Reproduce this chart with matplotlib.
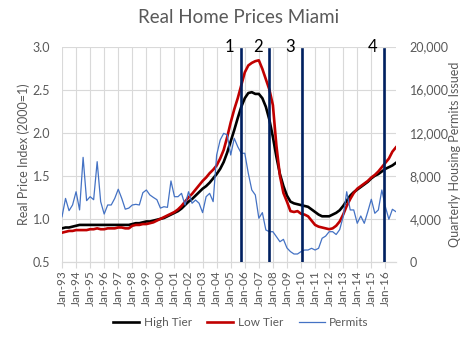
import matplotlib
matplotlib.use("Agg")
import matplotlib.pyplot as plt
from matplotlib.ticker import FuncFormatter

plt.rcParams["font.family"] = ["Lato", "DejaVu Sans"]

# ── data (quarterly, 1993Q1 .. 2016Q4) ─────────────────────
high_tier = [
    0.89, 0.90, 0.90, 0.91,  0.92, 0.93, 0.93, 0.93,  0.93, 0.93, 0.93, 0.93,
    0.93, 0.93, 0.93, 0.93,  0.93, 0.93, 0.93, 0.93,  0.94, 0.95, 0.95, 0.96,
    0.97, 0.97, 0.98, 0.99,  1.00, 1.01, 1.03, 1.05,  1.07, 1.09, 1.12, 1.16,
    1.20, 1.23, 1.27, 1.31,  1.35, 1.38, 1.42, 1.47,  1.52, 1.58, 1.66, 1.77,
    1.90, 2.03, 2.17, 2.30,  2.40, 2.46, 2.47, 2.45,  2.45, 2.40, 2.30, 2.15,
    1.95, 1.72, 1.52, 1.38,  1.27, 1.20, 1.18, 1.17,  1.16, 1.15, 1.14, 1.11,
    1.08, 1.05, 1.03, 1.03,  1.03, 1.05, 1.07, 1.10,  1.15, 1.21, 1.27, 1.31,
    1.34, 1.37, 1.40, 1.43,  1.47, 1.50, 1.52, 1.55,  1.58, 1.60, 1.62, 1.65,
]
low_tier = [
    0.84, 0.85, 0.86, 0.86,  0.87, 0.87, 0.87, 0.87,  0.88, 0.88, 0.89, 0.88,
    0.88, 0.89, 0.89, 0.89,  0.90, 0.90, 0.89, 0.89,  0.92, 0.93, 0.93, 0.94,
    0.94, 0.95, 0.96, 0.98,  1.00, 1.02, 1.04, 1.06,  1.08, 1.11, 1.15, 1.20,
    1.25, 1.29, 1.34, 1.39,  1.44, 1.48, 1.53, 1.57,  1.62, 1.70, 1.80, 1.95,
    2.12, 2.27, 2.40, 2.55,  2.70, 2.78, 2.81, 2.83,  2.84, 2.74, 2.62, 2.50,
    2.32, 1.85, 1.50, 1.30,  1.20, 1.09, 1.08, 1.09,  1.06, 1.05, 1.03, 0.98,
    0.93, 0.91, 0.90, 0.89,  0.88, 0.89, 0.92, 0.97,  1.05, 1.15, 1.23, 1.30,
    1.35, 1.38, 1.41, 1.44,  1.48, 1.51, 1.55, 1.60,  1.65, 1.70, 1.78, 1.83,
]
permits = [
    4200, 5900, 4760, 5290,  6520, 4830, 9710, 5690,  6060, 5780, 9310, 5600,
    4450, 5290, 5290, 5900,  6750, 5900, 4900, 5000,  5290, 5350, 5290, 6430,
    6680, 6220, 5990, 5780,  5000, 5130, 5070, 7520,  6060, 6060, 6370, 5290,
    6520, 5450, 5750, 5450,  4580, 6060, 6370, 5600,  9930, 11320, 11940, 11800,
    9930, 11480, 10700, 10090,  10090, 8230, 6680, 6220,  4060, 4580, 2970, 2810,
    2810, 2350, 1880, 2100,  1300, 960, 740, 740,  960, 1110, 1110, 1270,
    1110, 1270, 2200, 2400,  2810, 2810, 2550, 3000,  4200, 6520, 4830, 4830,
    3590, 4270, 3590, 4670,  5820, 4520, 4830, 6680,  5130, 3960, 4890, 4670,
]
quarters = [1993 + i / 4 for i in range(len(high_tier))]
years = list(range(1993, 2017))
year_labels = [f"Jan-{y % 100:02d}" for y in years]

events = [2005.72, 2007.72, 2010.05, 2015.88]
event_labels = ["1", "2", "3", "4"]

# ── styling ────────────────────────────────────────────────
GREY_TXT = "#595959"
GRID = "#d9d9d9"

fig = plt.figure(figsize=(4.77, 3.42), dpi=100)
ax = fig.add_axes([0.130, 0.234, 0.700, 0.630])
ax2 = ax.twinx()

ax.plot(quarters, high_tier, color="black", lw=1.9, label="High Tier", zorder=3)
ax.plot(quarters, low_tier, color="#c00000", lw=1.9, label="Low Tier", zorder=3)
ax2.plot(quarters, permits, color="#4472c4", lw=0.9, label="Permits", zorder=3)

for xe, lab in zip(events, event_labels):
    ax2.axvline(xe, ymin=0, ymax=0.99, color="#002060", lw=1.9, zorder=4)
    ax2.text(xe - 0.45, 20000, lab, ha="right", va="center", fontsize=12,
             color="black", zorder=5)

ax.set_xlim(1993, 2016.75)
ax.set_ylim(0.5, 3.0)
ax2.set_ylim(0, 20000)
ax.set_yticks([0.5, 1.0, 1.5, 2.0, 2.5, 3.0])
ax.yaxis.set_major_formatter(FuncFormatter(lambda v, p: f"{v:.1f}"))
ax2.set_yticks(range(0, 20001, 4000))
ax2.yaxis.set_major_formatter(FuncFormatter(lambda v, p: f"{int(v):,}"))
ax.set_xticks(years)
ax.set_xticklabels(year_labels, rotation=90)

ax.grid(True, color=GRID, lw=0.8)
ax.set_axisbelow(True)
for a in (ax, ax2):
    for s in ("top", "right", "left"):
        a.spines[s].set_visible(False)
    a.spines["bottom"].set_color(GRID)
ax.tick_params(axis="x", colors=GRID, labelcolor=GREY_TXT, labelsize=8.5,
               length=4, pad=2)
ax.tick_params(axis="y", length=0, labelcolor=GREY_TXT, labelsize=9, pad=8.5)
ax2.tick_params(axis="y", length=0, labelcolor=GREY_TXT, labelsize=9, pad=10)

ax.set_ylabel("Real Price Index (2000=1)", color=GREY_TXT, fontsize=9, labelpad=2)
ax2.set_ylabel("Quarterly Housing Permits Issued", color=GREY_TXT, fontsize=9,
               labelpad=0)

fig.suptitle("Real Home Prices Miami", x=0.50, y=0.975, fontsize=13.5,
             color=GREY_TXT)

h1, l1 = ax.get_legend_handles_labels()
h2, l2 = ax2.get_legend_handles_labels()
fig.legend(h1 + h2, l1 + l2, loc="center", bbox_to_anchor=(0.505, 0.057), ncol=3,
           frameon=False, fontsize=8.5, handlelength=2.2, handletextpad=0.4,
           columnspacing=1.3, labelcolor=GREY_TXT)

fig.savefig("out.png", dpi=100)
